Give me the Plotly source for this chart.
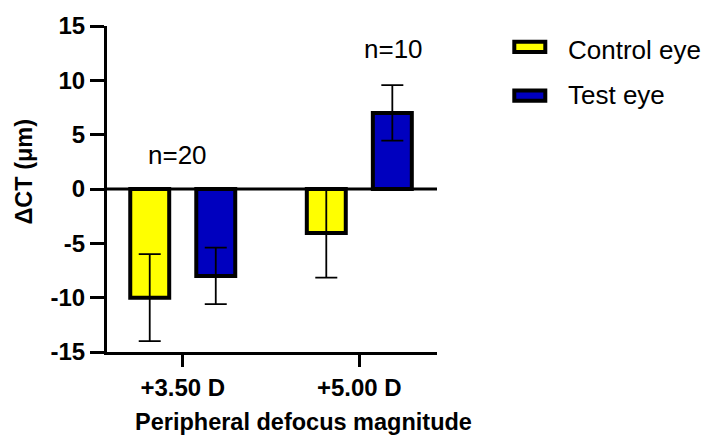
import plotly.graph_objects as go

categories = ["+3.50 D", "+5.00 D"]
control_vals = [-10.0, -4.05]
control_err = [4.0, 4.1]
test_vals = [-8.0, 7.0]
test_err = [2.6, 2.55]
n_labels = ["n=20", "n=10"]
series_names = ["Control eye", "Test eye"]
colors = ["#FFFF00", "#0000BF"]
y_tickvals = [-15, -10, -5, 0, 5, 10, 15]
y_ticktext = ["-15", "-10", "-5", "0", "5", "10", "15"]

W, H = 706, 438
L, R, T, B = 107, 437, 20, 352  # plot area in pixels


def px(xp):
    return (xp - L) / (R - L)


def py(yp):
    return (B - yp) / (B - T)


FONT = "Arial, Liberation Sans, sans-serif"

fig = go.Figure()
for name, vals, errs, col in [
    (series_names[0], control_vals, control_err, colors[0]),
    (series_names[1], test_vals, test_err, colors[1]),
]:
    fig.add_trace(go.Bar(
        x=categories, y=vals, name=name,
        marker=dict(color=col, line=dict(color="black", width=4)),
        error_y=dict(type="data", array=errs, visible=True, color="black",
                     thickness=1.8, width=11),
        showlegend=False,
    ))

fig.update_layout(
    width=W, height=H,
    margin=dict(l=L, r=W - R, t=T, b=H - B, pad=0),
    plot_bgcolor="white", paper_bgcolor="white",
    barmode="group", bargap=0.252, bargroupgap=0.41,
    font=dict(family=FONT, color="black"),
    xaxis=dict(
        range=[-0.429, 1.44], showline=True, linecolor="black", linewidth=3,
        ticks="outside", ticklen=12, tickwidth=3, tickcolor="black",
        tickfont=dict(size=24, family=FONT, weight="bold"),
        showgrid=False, zeroline=False,
    ),
    yaxis=dict(
        range=[-15, 15], tickvals=y_tickvals, ticktext=y_ticktext,
        showline=True, linecolor="black", linewidth=3,
        ticks="outside", ticklen=14, tickwidth=3, tickcolor="black",
        tickfont=dict(size=24, family=FONT, weight="bold"),
        showgrid=False, zeroline=False,
    ),
)

# zero line drawn above bars
fig.add_shape(type="line", xref="x domain", yref="y", x0=0, x1=1, y0=0, y1=0,
              line=dict(color="black", width=3), layer="above")

# axis titles
fig.add_annotation(text="Peripheral defocus magnitude", xref="paper", yref="paper",
                   x=px(303.3), y=py(423), showarrow=False, xanchor="center", yanchor="middle",
                   font=dict(size=23.5, family=FONT, weight="bold"))
fig.add_annotation(text="ΔCT (μm)", xref="paper", yref="paper",
                   x=px(24), y=py(168.3), showarrow=False, textangle=-90,
                   xanchor="center", yanchor="middle",
                   font=dict(size=23.5, family=FONT, weight="bold"))

# n labels
fig.add_annotation(text=n_labels[0], xref="x", yref="y", x=-0.03, y=3.1,
                   showarrow=False, font=dict(size=26, family=FONT))
fig.add_annotation(text=n_labels[1], xref="x", yref="y", x=1.195, y=12.9,
                   showarrow=False, font=dict(size=26, family=FONT))

# manual legend
legend_rows = [(41.2, 44), (90.8, 90.7)]
for (rect_c, text_c), name, col in zip(legend_rows, series_names, colors):
    fig.add_shape(type="rect", xref="paper", yref="paper",
                  x0=px(514.3), x1=px(545.3), y0=py(rect_c + 5.2), y1=py(rect_c - 5.2),
                  fillcolor=col, line=dict(color="black", width=4))
    fig.add_annotation(text=name, xref="paper", yref="paper",
                       x=px(566), y=py(text_c), xanchor="left", yanchor="middle",
                       showarrow=False, font=dict(size=26, family=FONT))

fig.write_html("out.html")
